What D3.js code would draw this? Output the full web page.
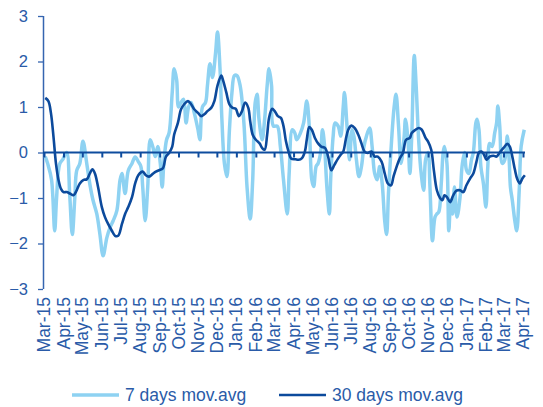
<!DOCTYPE html>
<html>
<head>
  <meta charset="utf8">
  <script src="https://d3js.org/d3.v7.min.js"></script>
  <style>
    body { margin: 0; background: #fff; }
    text { font-family: "Liberation Sans", Arial, sans-serif; fill: #2a5ba8; }
  </style>
</head>
<body>
  <svg id="chart" width="543" height="407"></svg>
  <script>
    // days since 1 Mar 2015
    var shortDays = [2,6,12,17,20,25,30,36,41,45,
      49,52,57,62,68,73,78,84,89,94,
      100,105,110,116,121,124,129,134,140,145,
      150,154,157,161,165,169,173,177,181,185,
      188,191,195,199,204,207,211,214,218,222,
      226,230,234,239,245,248,252,257,260,264,
      268,273,276,280,283,287,291,295,299,303,
      307,312,318,323,328,332,336,339,342,347,
      351,355,358,362,365,371,376,381,387,390,
      395,399,402,408,413,418,422,426,429,433,
      436,440,443,446,450,454,456,460,463,468,
      472,476,478,482,486,490,493,497,501,505,
      509,513,518,522,526,530,534,538,542,545,
      548,553,557,560,564,568,573,575,579,582,
      585,589,592,596,600,604,607,611,614,618,
      622,625,628,632,635,637,641,644,647,650,
      653,657,662,665,669,672,676,680,683,687,
      689,692,695,699,703,706,709,713,717,720,
      722,725,729,733,737,740,742,745,749,752,
      756,759,764];
    var shortVals = [-0.09,-0.25,-0.6,-1.72,-1.0,-0.25,-0.15,0.0,-0.96,-1.8,
      -1.0,-0.4,-0.24,0.25,-0.24,-0.7,-1.05,-1.35,-1.8,-2.27,
      -1.87,-1.65,-1.5,-1.27,-0.6,-0.46,-0.9,-0.4,-0.24,-0.1,
      -0.2,-0.3,-0.75,-1.5,-0.76,0.28,0.13,-0.09,0.13,-0.24,
      -0.76,-0.16,0.28,0.43,1.32,1.84,1.6,1.0,1.1,1.17,
      0.65,1.0,1.1,0.87,0.5,0.28,1.0,1.1,1.47,1.95,
      1.65,2.2,2.65,1.84,0.73,-0.24,-0.53,0.5,1.32,1.69,
      1.69,1.47,0.65,-0.76,-1.46,-0.6,1.1,1.28,0.73,0.28,
      0.73,1.47,1.84,1.47,0.58,0.58,0.13,-0.6,-1.35,-0.46,
      0.5,0.43,0.28,0.43,0.65,1.13,0.58,-0.6,-0.75,-0.3,
      -0.24,0,0.5,0.2,-0.76,-1.35,-0.6,0.36,0.65,0.58,
      0.36,1.0,1.32,0.58,-0.16,0.5,0.36,-0.16,-0.53,-0.31,
      0.13,0.36,0.54,0.13,-0.46,-0.6,-0.31,-0.68,-1.5,-1.8,
      -0.9,0.28,1.0,1.28,0.58,-0.24,0.36,0.73,0.28,-0.46,
      0.36,2.13,1.47,0.28,-0.46,-0.83,-0.16,0,-0.76,-1.94,
      -1.42,-1.35,-1.31,-0.68,0,0.13,-0.24,-1.72,-1.05,-1.35,
      -0.76,-1.42,-0.97,-0.31,0,-0.38,-0.46,-0.16,0,0.65,
      0.73,0.5,-0.31,-0.68,-1.2,-0.31,0.2,0.13,0.43,0.65,
      1.02,0.58,-0.24,-0.16,0.36,-0.16,-0.76,-1.05,-1.5,-1.72,
      -0.83,0.13,0.5];

    var longDays = [2,7,11,15,19,23,27,31,36,41,
      47,52,57,63,68,73,77,81,86,92,
      97,102,108,113,118,124,129,134,140,145,
      150,157,162,167,173,178,183,189,194,199,
      204,207,213,218,223,229,234,239,245,250,
      255,260,266,271,276,282,285,290,295,300,
      305,310,315,320,325,328,332,337,343,347,
      351,355,358,363,367,372,377,381,385,389,
      393,400,405,410,415,418,422,426,431,436,
      441,447,452,457,462,468,472,476,480,484,
      489,494,500,505,510,515,521,526,531,537,
      542,547,552,556,561,566,571,576,582,585,
      591,596,601,607,611,616,620,625,630,634,
      637,641,646,651,656,662,667,672,678,683,
      688,692,696,700,704,709,715,720,725,731,
      737,741,745,749,753,757,761,765];
    var longVals = [1.2,1.13,0.87,0.36,-0.24,-0.6,-0.8,-0.87,-0.87,-0.9,
      -0.94,-0.83,-0.68,-0.6,-0.59,-0.46,-0.37,-0.46,-0.76,-1.2,
      -1.42,-1.57,-1.72,-1.83,-1.83,-1.57,-1.35,-1.2,-0.98,-0.68,
      -0.5,-0.42,-0.5,-0.53,-0.47,-0.42,-0.39,-0.35,-0.09,-0.01,
      0.13,0.39,0.65,0.95,1.06,1.13,1.06,0.95,0.87,0.8,
      0.84,0.91,0.98,1.13,1.47,1.69,1.58,1.32,1.06,0.98,
      0.96,0.8,0.91,1.1,0.98,0.69,0.39,0.28,0.2,0.1,
      0.06,0.39,0.76,0.96,0.91,0.8,0.76,0.58,0.24,0.02,
      -0.13,-0.15,-0.16,-0.13,0.02,0.28,0.56,0.5,0.32,0.2,
      0.13,0.1,-0.09,-0.39,-0.27,-0.13,-0.05,0.02,0.28,0.5,
      0.59,0.54,0.39,0.2,0.02,-0.01,0.02,-0.09,-0.09,-0.2,
      -0.46,-0.68,-0.72,-0.53,-0.31,-0.13,-0.01,0.28,0.32,0.43,
      0.5,0.54,0.5,0.32,0.24,0.06,-0.37,-0.83,-1.0,-1.05,
      -0.94,-0.98,-1.09,-0.94,-0.84,-0.83,-0.87,-0.72,-0.57,-0.46,
      -0.2,0,0.02,-0.05,-0.16,-0.09,-0.07,-0.09,0,0.1,
      0.19,0.13,-0.09,-0.37,-0.59,-0.68,-0.57,-0.5];

    var yTicks = [-3, -2, -1, 0, 1, 2, 3];
    var seriesNames = ['7 days mov.avg', '30 days mov.avg'];

    var chart = d3.select('#chart');
    var start = new Date(Date.UTC(2015, 2, 1));
    var end = new Date(Date.UTC(2017, 3, 1));

    var x = d3.scaleUtc().domain([start, end]).range([44, 523]);
    var y = d3.scaleLinear().domain([-3, 3]).range([289, 16]);

    function toPoints(days, vals) {
      return days.map((d, i) => ({ date: d3.utcDay.offset(start, d), value: vals[i] }));
    }
    var shortData = toPoints(shortDays, shortVals);
    var longData = toPoints(longDays, longVals);

    var line = d3.line()
      .x((d) => x(d.date))
      .y((d) => y(d.value))
      .curve(d3.curveCatmullRom.alpha(0.5));

    // y axis
    var yAxis = chart.append('g')
      .attr('transform', 'translate(43,0)')
      .call(d3.axisLeft(y).tickValues(yTicks).tickSize(5).tickPadding(10).tickFormat(d3.format('d')));
    yAxis.selectAll('line, path').attr('stroke', '#3565b0').attr('stroke-width', 1.3);
    yAxis.select('.domain').attr('d', 'M0.5,' + y(3) + 'V' + y(-3)).attr('stroke-width', 1.5);
    yAxis.selectAll('text').attr('font-size', 16.5).attr('fill', '#2a5ba8');

    // light series
    chart.append('path')
      .datum(shortData)
      .attr('fill', 'none')
      .attr('stroke', '#8ed2f2')
      .attr('stroke-width', 3.5)
      .attr('stroke-linejoin', 'round')
      .attr('d', line);

    // zero axis with month ticks
    var months = d3.utcMonth.range(start, d3.utcMonth.offset(end, 1));
    var xAxis = chart.append('g')
      .attr('transform', 'translate(0,' + y(0) + ')')
      .call(d3.axisBottom(x).tickValues(months).tickSize(5).tickFormat(''));
    xAxis.select('.domain').attr('d', 'M43,0H525').attr('stroke', '#0e4c9e').attr('stroke-width', 2);
    xAxis.selectAll('.tick line').attr('stroke', '#0e4c9e').attr('stroke-width', 2);

    // dark series
    chart.append('path')
      .datum(longData)
      .attr('fill', 'none')
      .attr('stroke', '#0c4a9c')
      .attr('stroke-width', 2.6)
      .attr('stroke-linejoin', 'round')
      .attr('d', line);

    // month labels
    var fmt = d3.utcFormat('%b-%y');
    chart.append('g').selectAll('text')
      .data(months)
      .enter()
      .append('text')
      .attr('transform', (d) => 'translate(' + x(d) + ',297) rotate(-90)')
      .attr('text-anchor', 'end')
      .attr('dy', '0.35em')
      .attr('font-size', 17.5)
      .text(fmt);

    // legend
    var legend = chart.append('g').attr('transform', 'translate(0,395)');
    var legendItems = [
      { x: 72, color: '#8ed2f2', width: 3.5 },
      { x: 279, color: '#0c4a9c', width: 2.6 }
    ];
    legendItems.forEach((it, i) => {
      legend.append('line')
        .attr('x1', it.x).attr('x2', it.x + 47)
        .attr('stroke', it.color).attr('stroke-width', it.width);
      legend.append('text')
        .attr('x', it.x + 53)
        .attr('dy', '0.35em')
        .attr('font-size', 17.5)
        .text(seriesNames[i]);
    });
  </script>
</body>
</html>
